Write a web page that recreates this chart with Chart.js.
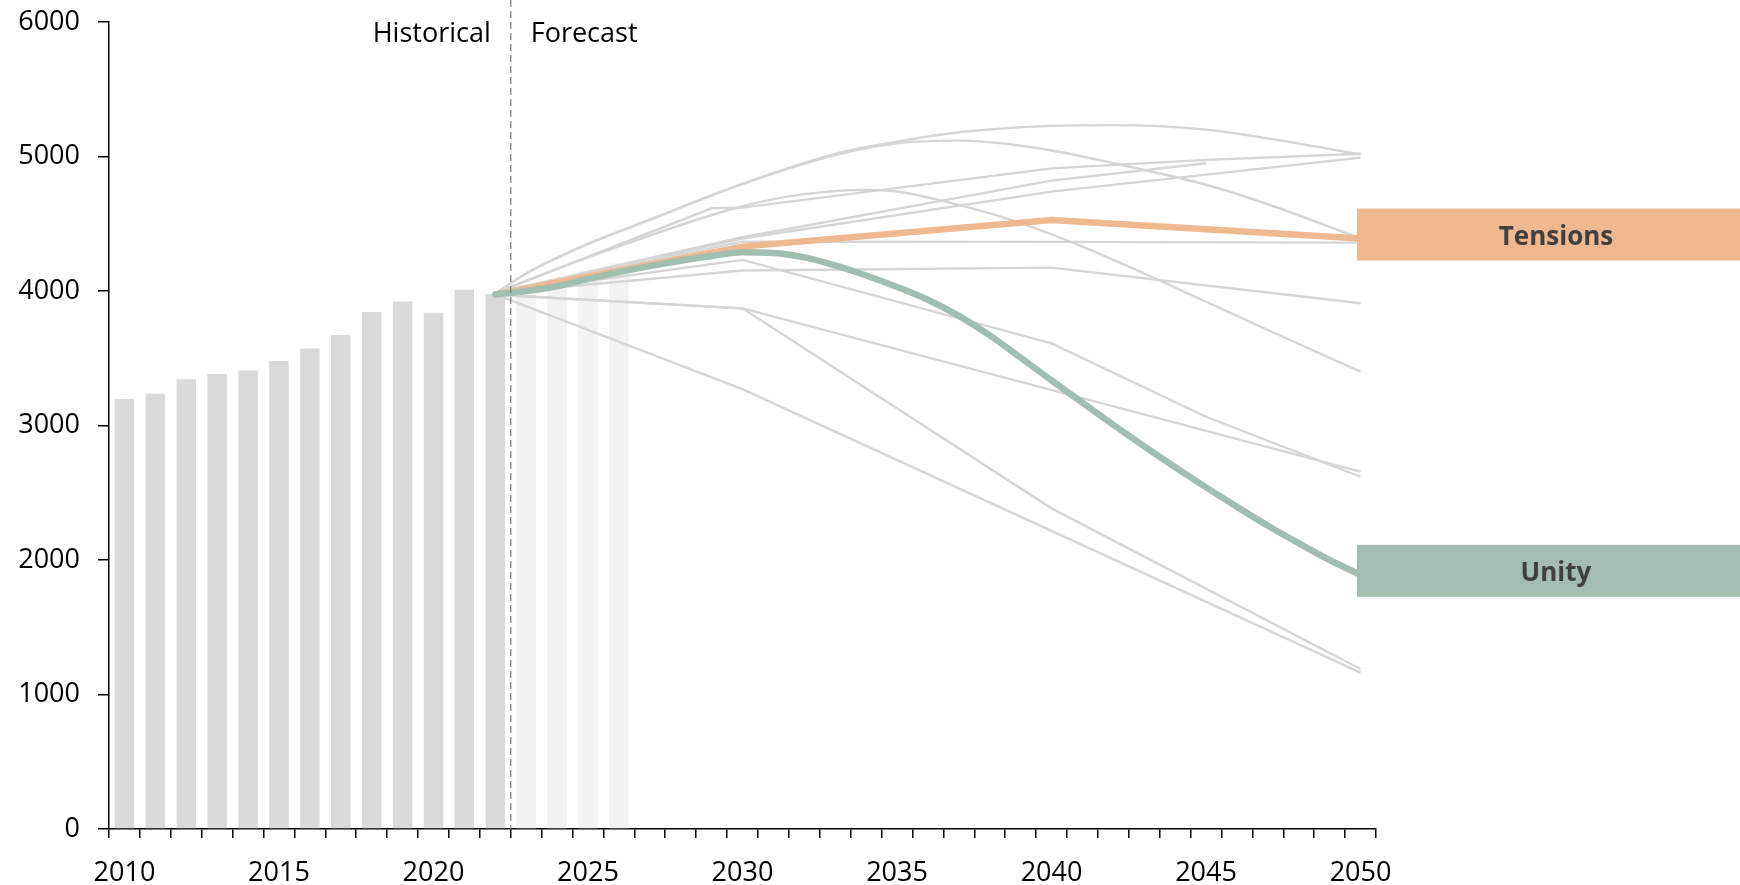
<!DOCTYPE html>
<html>
<head>
<meta charset="utf-8">
<script src="https://cdn.jsdelivr.net/npm/chart.js@4.4.1/dist/chart.umd.min.js"></script>
<style>
  body { margin: 0; background: #fff; }
  canvas { display: block; }
</style>
</head>
<body>
<canvas id="chart" width="1740" height="885"></canvas>
<script>
// categories
const years = [
  "2010","2011","2012","2013","2014","2015","2016","2017","2018","2019",
  "2020","2021","2022","2023","2024","2025","2026","2027","2028","2029",
  "2030","2031","2032","2033","2034","2035","2036","2037","2038","2039",
  "2040","2041","2042","2043","2044","2045","2046","2047","2048","2049","2050"
];
const labelYears = ["2010","2015","2020","2025","2030","2035","2040","2045","2050"];

// bars
const histYears = ["2010","2011","2012","2013","2014","2015","2016","2017","2018","2019","2020","2021","2022"];
const histBars = [3197, 3236, 3344, 3383, 3408, 3480, 3572, 3672, 3844, 3922, 3838, 4010, 3980];
const forecastYears = ["2023","2024","2025","2026"];
const forecastBars = [4030, 4090, 4150, 4205];

// highlighted scenarios  [year, value]
const tensions = [[2022,3975],[2030,4330],[2040,4528],[2050,4390]];
const unity = [[2022,3975],[2023,4000],[2024,4035],[2025,4090],[2026,4140],[2027,4185],[2028,4225],
  [2029,4260],[2030,4288],[2031,4283],[2032,4250],[2033,4190],[2034,4115],[2035,4030],[2036,3935],
  [2037,3815],[2038,3670],[2039,3505],[2040,3335],[2041,3170],[2042,3005],[2043,2845],[2044,2690],
  [2045,2540],[2046,2395],[2047,2255],[2048,2125],[2049,2000],[2050,1890]];

// other outlooks (grey)
const archHigh = [[2022,3980],[2023,4130],[2025,4350],[2027,4530],[2030,4796],[2033,5020],[2035,5110],
  [2037,5180],[2040,5228],[2042,5233],[2045,5200],[2047,5135],[2050,5015]];
const archLow = [[2022,3980],[2023,4130],[2025,4350],[2027,4530],[2030,4796],[2033,5011],[2035,5098],
  [2037,5118],[2040,5045],[2042,4950],[2045,4790],[2047,4645],[2050,4390]];
const peakMid = [[2022,3985],[2025,4250],[2030,4630],[2032,4720],[2034,4752],[2035,4740],[2037,4640],
  [2039,4505],[2041,4330],[2043,4130],[2045,3920],[2047,3710],[2050,3400]];
const riseA = [[2022,3985],[2029,4615],[2030,4620],[2040,4912],[2045,4975],[2050,5020]];
const riseB = [[2022,3985],[2030,4400],[2040,4821],[2045,4950]];
const riseC = [[2022,3985],[2030,4390],[2040,4739],[2050,4992]];
const flat = [[2022,3985],[2030,4367],[2040,4365],[2050,4360]];
const dropE = [[2022,3980],[2030,4231],[2040,3611],[2045,3065],[2050,2619]];
const plateau = [[2022,3985],[2030,4152],[2040,4174],[2050,3909]];
const slowDrop = [[2022,3972],[2030,3871],[2050,2657]];
const fastDrop = [[2022,3972],[2030,3871],[2040,2384],[2050,1190]];
const steadyDrop = [[2022,3975],[2030,3271],[2050,1162]];

const greyLines = [archHigh, archLow, peakMid, riseA, riseB, riseC, flat, dropE, plateau, slowDrop, fastDrop, steadyDrop];
const smoothLines = [archHigh, archLow, peakMid];

const FONT = '"Open Sans", sans-serif';

function toPoints(pairs) {
  return pairs.map(p => ({ x: String(p[0]), y: p[1] }));
}

function barData(cats, vals) {
  return years.map(y => {
    let i = cats.indexOf(y);
    return i >= 0 ? vals[i] : null;
  });
}

let datasets = [];

datasets.push({
  type: 'line', data: toPoints(unity), borderColor: '#A0BFB1', borderWidth: 6.5,
  borderCapStyle: 'round', pointRadius: 0, cubicInterpolationMode: 'monotone', order: 0
});
datasets.push({
  type: 'line', data: toPoints(tensions), borderColor: '#F0B88E', borderWidth: 6.5,
  pointRadius: 0, tension: 0, order: 1
});
greyLines.forEach(g => {
  datasets.push({
    type: 'line', data: toPoints(g), borderColor: '#D5D5D5', borderWidth: 2.4,
    pointRadius: 0, order: 2,
    cubicInterpolationMode: smoothLines.includes(g) ? 'monotone' : 'default', tension: 0
  });
});
datasets.push({
  type: 'bar', data: barData(histYears, histBars), backgroundColor: '#D9D9D9',
  grouped: false, barPercentage: 0.63, categoryPercentage: 1, order: 3
});
datasets.push({
  type: 'bar', data: barData(forecastYears, forecastBars), backgroundColor: '#F2F2F2',
  grouped: false, barPercentage: 0.63, categoryPercentage: 1, order: 4
});

// dashed divider, headings and scenario tags
const extras = {
  id: 'extras',
  afterDatasetsDraw(chart) {
    const c = chart.ctx, xs = chart.scales.x, ys = chart.scales.y, area = chart.chartArea;
    let xd = xs.getPixelForValue(12.5);
    c.save();
    c.strokeStyle = '#808080';
    c.lineWidth = 1.3;
    c.setLineDash([7, 4]);
    c.beginPath();
    c.moveTo(xd, 0);
    c.lineTo(xd, area.bottom);
    c.stroke();
    c.setLineDash([]);

    c.fillStyle = '#000';
    c.font = '27px ' + FONT;
    c.textBaseline = 'alphabetic';
    c.textAlign = 'right';
    c.fillText('Historical', xd - 20, 42);
    c.textAlign = 'left';
    c.fillText('Forecast', xd + 20, 42);

    const tags = [
      { text: 'Tensions', value: tensions[tensions.length - 1][1], color: '#F0B88E' },
      { text: 'Unity', value: unity[unity.length - 1][1], color: '#A3BEB1' }
    ];
    tags.forEach(t => {
      let cy = ys.getPixelForValue(t.value) - 4;
      let x0 = area.right - 19;
      c.fillStyle = t.color;
      c.fillRect(x0, cy - 26, chart.width - x0, 52);
      c.fillStyle = '#404040';
      c.font = 'bold 26px ' + FONT;
      c.textAlign = 'center';
      c.fillText(t.text, area.right + 180, cy + 10);
    });
    c.restore();
  }
};

new Chart(document.getElementById('chart'), {
  type: 'bar',
  data: { labels: years, datasets: datasets },
  options: {
    responsive: false,
    animation: false,
    layout: { padding: { top: 22, right: 364, left: 0, bottom: 0 } },
    plugins: { legend: { display: false }, tooltip: { enabled: false } },
    scales: {
      x: {
        offset: true,
        grid: { offset: true, drawOnChartArea: false, drawTicks: true, tickLength: 9, color: '#000', lineWidth: 1.5 },
        border: { color: '#000', width: 1.5 },
        ticks: {
          autoSkip: false, maxRotation: 0, padding: 19, color: '#000',
          font: { family: FONT, size: 27 },
          callback: function(v, i) { return labelYears.includes(years[i]) ? years[i] : ''; }
        },
        afterFit: s => { s.height = 56; }
      },
      y: {
        min: 0, max: 6000,
        grid: { drawOnChartArea: false, drawTicks: true, tickLength: 11, color: '#000', lineWidth: 1.5 },
        border: { color: '#000', width: 1.5 },
        ticks: {
          stepSize: 1000, padding: 18, color: '#000', font: { family: FONT, size: 27 },
          callback: v => String(v)
        },
        afterFit: s => { s.width = 109; s.paddingTop = 0; s.paddingBottom = 0; }
      }
    }
  },
  plugins: [extras]
});
</script>
</body>
</html>
